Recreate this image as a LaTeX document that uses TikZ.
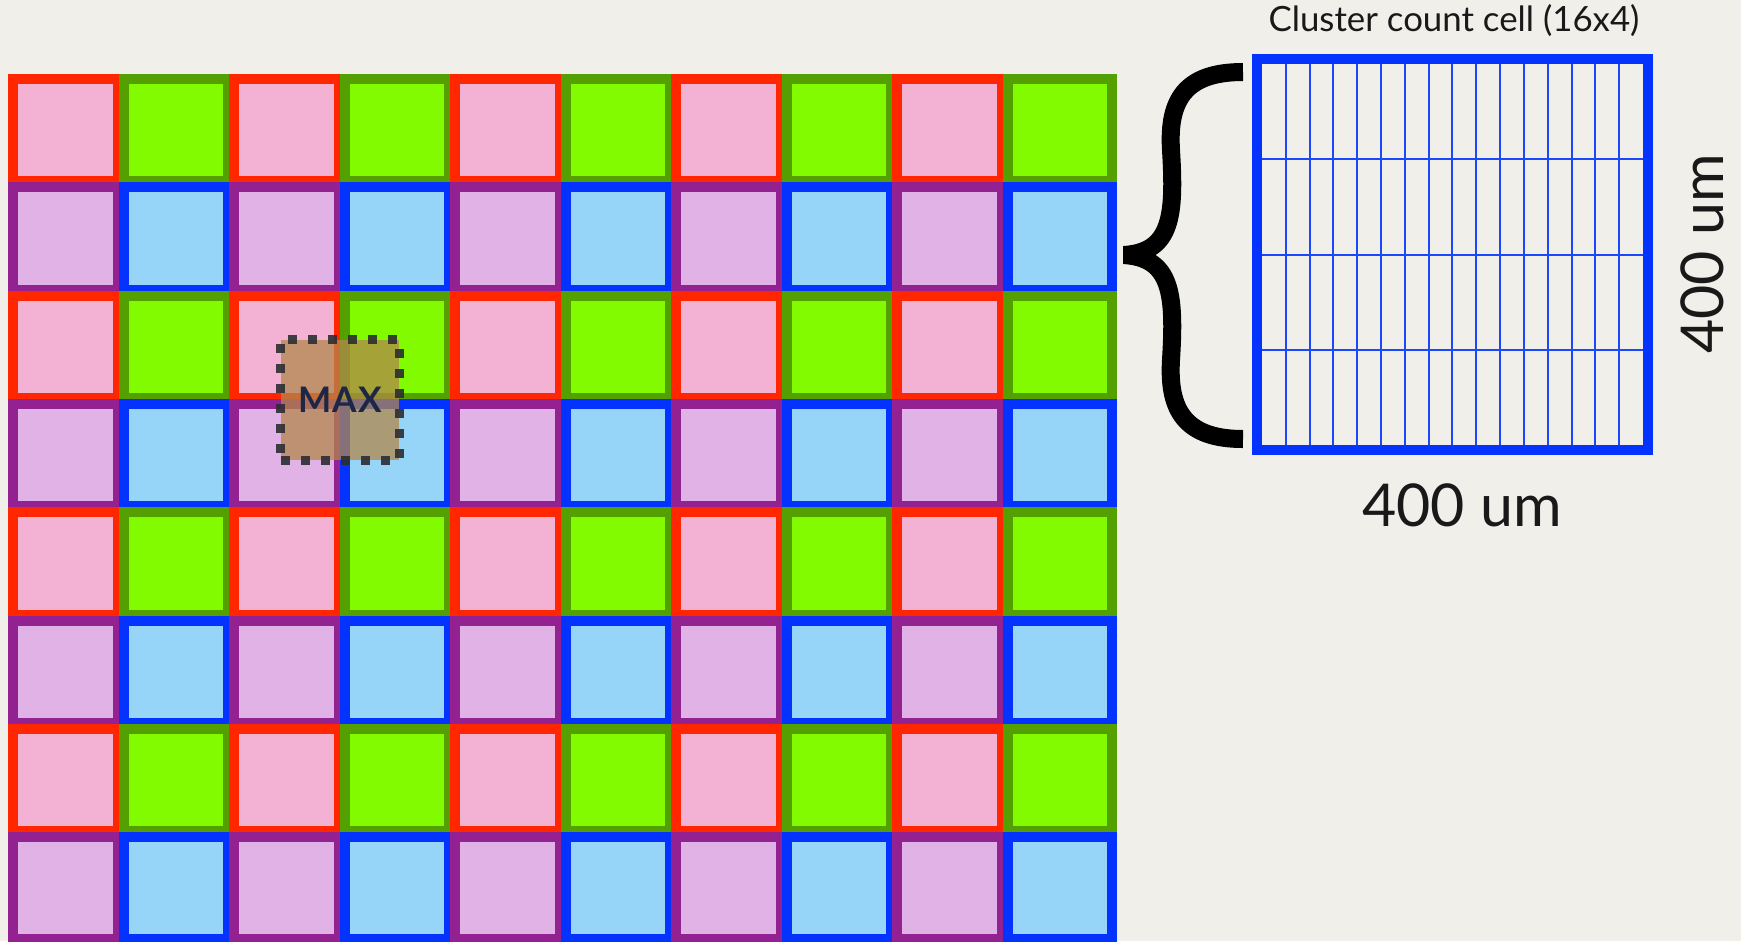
\documentclass[tikz,border=0pt]{standalone}
\usepackage{fontspec}
\setmainfont{Lato}
\definecolor{paper}{RGB}{241,239,234}
\definecolor{line0}{RGB}{255,38,0}
\definecolor{fill0}{RGB}{243,178,211}
\definecolor{line1}{RGB}{84,160,0}
\definecolor{fill1}{RGB}{130,250,0}
\definecolor{line2}{RGB}{148,33,146}
\definecolor{fill2}{RGB}{225,178,230}
\definecolor{line3}{RGB}{4,51,255}
\definecolor{fill3}{RGB}{150,212,248}
\definecolor{boxbrown}{RGB}{178,135,75}
\definecolor{dotgray}{RGB}{45,45,50}
\definecolor{maxtext}{RGB}{30,38,70}

\begin{document}
\begin{tikzpicture}[x=0.01cm, y=-0.01cm,
    maxcell/.style={fill=boxbrown, fill opacity=0.75, text opacity=1, draw=dotgray,
        draw opacity=0.9, line width=0.9mm, dash pattern=on 0.9mm off 1.1mm,
        minimum width=1.18cm, minimum height=1.2cm, inner sep=0pt, text=maxtext,
        font=\fontsize{10}{12}\selectfont\bfseries\addfontfeature{LetterSpace=3}},
    countline/.style={line3!90!white, line width=0.2mm},
    lbl/.style={text=black!90, inner sep=0pt}]

    \useasboundingbox (0,0) rectangle (1741,941);
    \fill[paper] (0,0) rectangle (1741,941);

    \foreach \j in {0,...,7}
        \foreach \i in {0,...,9} {
            \pgfmathsetmacro{\x}{8+110.5*\i}
            \pgfmathsetmacro{\y}{74+108.3*\j}
            \pgfmathtruncatemacro{\k}{2*mod(\j,2)+mod(\i,2)}
            \fill[line\k] (\x,\y) rectangle (\x+114.5,\y+112.3);
            \fill[fill\k] (\x+10,\y+10) rectangle (\x+104.5,\y+102.3);
        }

    \node[maxcell] (maxcell) at (340,400) {MAX};

    \draw[line width=1.8mm, line cap=butt] (1243,72)
        .. controls (1185,72) and (1168,100) .. (1171,150)
        .. controls (1175,215) and (1172,252) .. (1124,255)
        .. controls (1172,258) and (1175,295) .. (1171,360)
        .. controls (1168,410) and (1185,439) .. (1243,439);

    \foreach \c in {1,...,15}
        \draw[countline] ({1262+23.81*\c},64) -- ++(0,381);
    \foreach \r in {1,2,3}
        \draw[countline] (1262,{64+95.25*\r}) -- ++(381,0);
    \draw[line3, line width=1mm] (1257,59) rectangle (1648,450);

    \node[lbl, font=\fontsize{9.9}{12}\selectfont] (title) at (1454,21) {Cluster count cell (16x4)};
    \node[lbl, font=\fontsize{16.8}{20}\selectfont] (widthlbl) at (1462,505) {400 um};
    \node[lbl, font=\fontsize{16.8}{20}\selectfont, rotate=90] (heightlbl) at (1702,254) {400 um};
\end{tikzpicture}
\end{document}
